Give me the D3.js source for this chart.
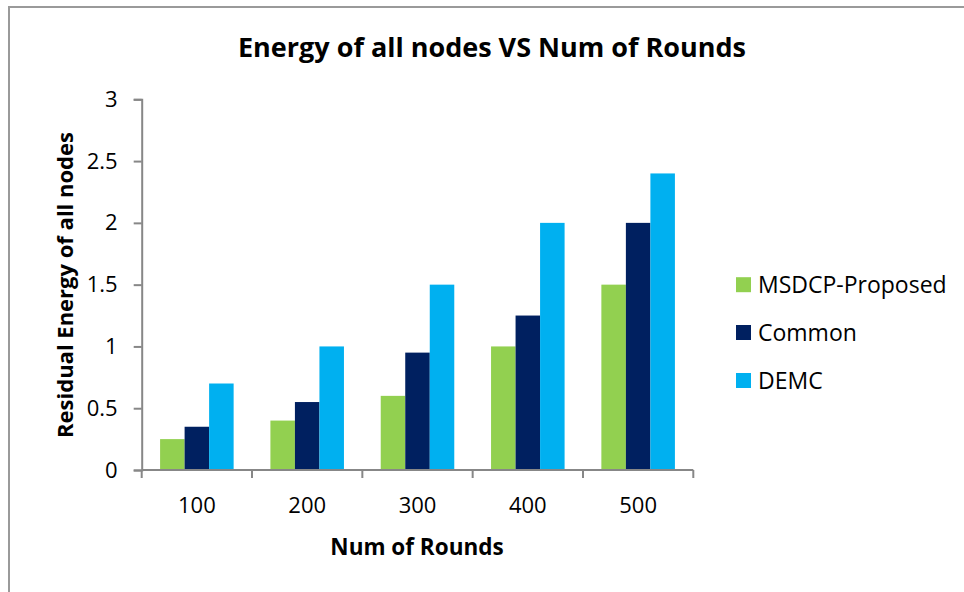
<!DOCTYPE html>
<html>
<head>
<meta charset="utf-8">
<script src="https://cdn.jsdelivr.net/npm/d3@7"></script>
<style>
  html, body { margin: 0; padding: 0; background: #fff; }
  svg { display: block; font-family: "Open Sans", sans-serif; }
</style>
</head>
<body>
<svg id="chart" width="964" height="592"></svg>
<script>
const categories = ["100", "200", "300", "400", "500"];
const seriesNames = ["MSDCP-Proposed", "Common", "DEMC"];
const msdcp = [0.25, 0.4, 0.6, 1.0, 1.5];
const common = [0.35, 0.55, 0.95, 1.25, 2.0];
const demc = [0.7, 1.0, 1.5, 2.0, 2.4];
const yTicks = [0, 0.5, 1, 1.5, 2, 2.5, 3];
const colors = ["#92D050", "#002060", "#00B0F0"];

(function () {
const seriesValues = [msdcp, common, demc];
const svg = d3.select("#chart");

// outer frame
svg.append("rect").attr("x", 9).attr("y", 7).attr("width", 1100).attr("height", 800)
  .attr("fill", "none").attr("stroke", "#9a9a9a").attr("stroke-width", 2);

const pLeft = 141.7, pRight = 693.3, pTop = 99.3, pBottom = 470;

const x = d3.scaleBand().domain(categories).range([pLeft, pRight])
  .paddingInner(1/3).paddingOuter(1/6);
const xs = d3.scaleBand().domain(seriesNames).range([0, x.bandwidth()]).padding(0);
const y = d3.scaleLinear().domain([0, 3]).range([pBottom, pTop]);

// bars
const groups = svg.append("g").selectAll("g").data(categories).join("g")
  .attr("transform", d => `translate(${x(d)},0)`);
groups.selectAll("rect")
  .data((d, i) => seriesNames.map((s, j) => ({ s, v: seriesValues[j][i], c: colors[j] })))
  .join("rect")
  .attr("x", d => xs(d.s))
  .attr("width", xs.bandwidth())
  .attr("y", d => y(d.v))
  .attr("height", d => y(0) - y(d.v))
  .attr("fill", d => d.c);

const axisColor = "#878787";

// y axis
const yAxis = svg.append("g").attr("transform", `translate(${pLeft},0)`)
  .call(d3.axisLeft(y).tickValues(yTicks).tickSize(8).tickPadding(16)
    .tickFormat(d => d3.format("")(d)));
yAxis.select(".domain").attr("stroke", axisColor).attr("stroke-width", 2);
yAxis.selectAll(".tick line").attr("stroke", axisColor).attr("stroke-width", 2);
yAxis.selectAll(".tick text").attr("font-size", 22).attr("fill", "#000")
  .attr("font-family", "Open Sans, sans-serif");

// x axis with ticks at category boundaries
const xAxisG = svg.append("g").attr("transform", `translate(0,${pBottom})`);
xAxisG.append("line").attr("x1", pLeft).attr("x2", pRight).attr("y1", 0).attr("y2", 0)
  .attr("stroke", axisColor).attr("stroke-width", 2);
const boundaries = categories.map(c => x(c) - x.step() * x.paddingInner() / 2)
  .concat([pRight]);
xAxisG.selectAll("line.b").data(boundaries).join("line").attr("class", "b")
  .attr("x1", d => d).attr("x2", d => d).attr("y1", 0).attr("y2", 8)
  .attr("stroke", axisColor).attr("stroke-width", 2);
xAxisG.selectAll("text").data(categories).join("text")
  .attr("x", d => x(d) + x.bandwidth() / 2).attr("y", 43)
  .attr("text-anchor", "middle").attr("font-size", 22).attr("fill", "#000")
  .text(d => d);

// titles
svg.append("text").attr("x", 492).attr("y", 57).attr("text-anchor", "middle")
  .attr("font-size", 27).attr("font-weight", "bold").attr("fill", "#000")
  .text("Energy of all nodes VS Num of Rounds");
svg.append("text").attr("x", 417).attr("y", 555).attr("text-anchor", "middle")
  .attr("font-size", 22.5).attr("font-weight", "bold").attr("fill", "#000")
  .text("Num of Rounds");
svg.append("text").attr("transform", "translate(73,285) rotate(-90)")
  .attr("text-anchor", "middle")
  .attr("font-size", 22).attr("font-weight", "bold").attr("fill", "#000")
  .text("Residual Energy of all nodes");

// legend
const legendY = [284.7, 332.5, 380.5];
const lg = svg.append("g").selectAll("g").data(seriesNames).join("g")
  .attr("transform", (d, i) => `translate(736,${legendY[i]})`);
lg.append("rect").attr("x", 0).attr("y", -7.5).attr("width", 15).attr("height", 15)
  .attr("fill", (d, i) => colors[i]);
lg.append("text").attr("x", 22).attr("y", 8.5).attr("font-size", 23).attr("fill", "#000")
  .text(d => d);
})();
</script>
</body>
</html>
